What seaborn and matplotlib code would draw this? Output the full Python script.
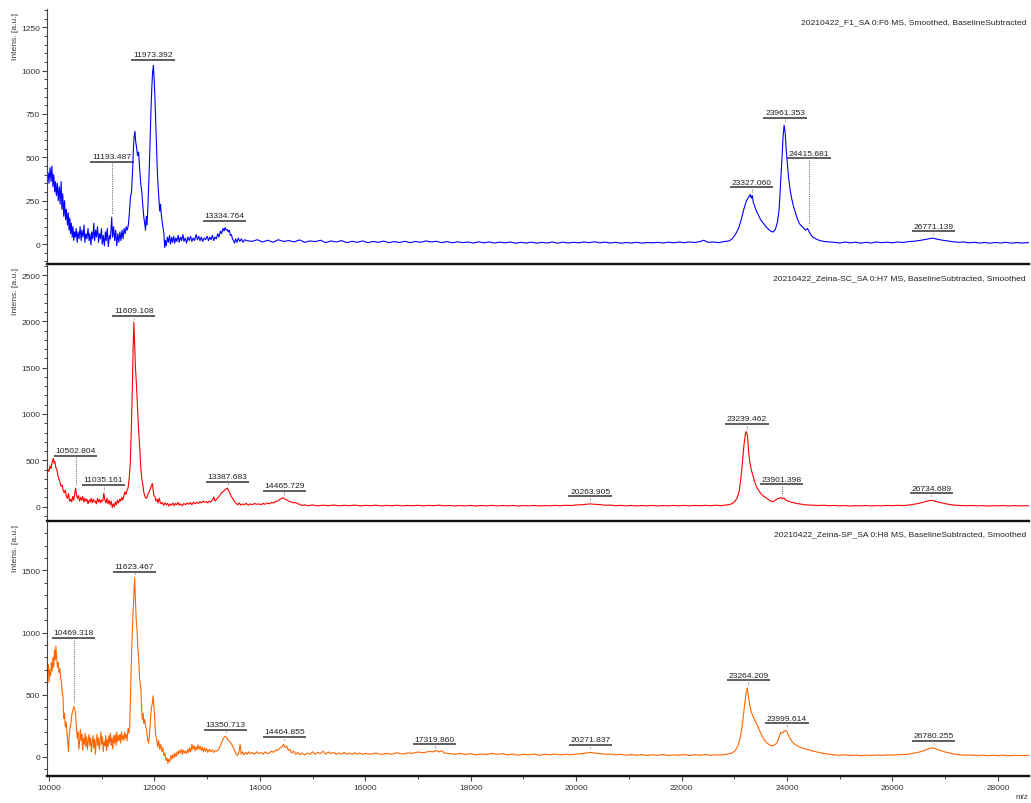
import matplotlib
matplotlib.use("Agg")
import matplotlib.pyplot as plt
import seaborn as sns
import pandas as pd
from matplotlib.ticker import MultipleLocator

# ---------------- data (m/z, intensity) ----------------
f1_points = [
    (9960, 370), (9985, 410), (10000, 350), (10020, 440), (10040, 360), (10055, 450), (10075, 330),
    (10090, 400), (10110, 300), (10125, 360), (10140, 280), (10160, 350), (10175, 250), (10195, 330),
    (10210, 230), (10230, 360), (10245, 200), (10260, 290), (10280, 160), (10295, 250), (10315, 140),
    (10330, 200), (10350, 110), (10365, 180), (10380, 80), (10395, 150), (10410, 60), (10425, 120),
    (10440, 40), (10455, 100), (10470, 20), (10485, 70), (10500, 40), (10515, 90), (10535, 10),
    (10550, 70), (10570, 30), (10590, 100), (10610, 20), (10625, 80), (10645, 40), (10665, 110),
    (10680, 10), (10700, 60), (10720, 30), (10740, 90), (10760, 20), (10775, 60), (10795, -5),
    (10810, 70), (10830, 30), (10850, 120), (10865, 20), (10885, 80), (10900, 40), (10920, 100),
    (10940, 10), (10955, 60), (10975, 30), (10995, 90), (11010, 0), (11030, 50), (11050, -10),
    (11070, 70), (11085, 20), (11105, 90), (11125, -15), (11145, 50), (11165, 30), (11190, 155),
    (11205, 40), (11225, 100), (11245, 20), (11265, 80), (11285, -10), (11305, 60), (11325, 10),
    (11345, 70), (11365, 20), (11385, 80), (11405, 30), (11425, 90), (11445, 60), (11465, 100),
    (11485, 80), (11505, 110), (11525, 180), (11545, 270), (11565, 300), (11585, 420), (11600, 540),
    (11615, 620), (11630, 650), (11645, 590), (11660, 560), (11680, 510), (11700, 530), (11720, 430),
    (11740, 350), (11760, 300), (11780, 220), (11800, 150), (11815, 120), (11830, 80), (11845, 160),
    (11860, 110), (11875, 210), (11890, 330), (11905, 460), (11920, 620), (11935, 780), (11950, 900),
    (11965, 990), (11980, 1030), (11995, 950), (12010, 840), (12025, 700), (12040, 560), (12055, 420),
    (12070, 330), (12085, 260), (12100, 190), (12115, 230), (12130, 170), (12150, 120), (12165, 90),
    (12180, 60), (12195, -20), (12210, 20), (12225, -10), (12245, 40), (12265, 10), (12285, 50),
    (12305, 0), (12325, 40), (12345, 10), (12365, 45), (12385, 5), (12405, 35), (12425, 15),
    (12450, 50), (12470, 10), (12495, 40), (12515, 20), (12540, 55), (12560, 15), (12585, 35),
    (12610, 5), (12635, 40), (12660, 20), (12685, 45), (12710, 15), (12735, 35), (12760, 20),
    (12790, 55), (12815, 25), (12840, 45), (12865, 20), (12890, 40), (12915, 15), (12945, 35),
    (12970, 25), (13000, 45), (13025, 20), (13050, 40), (13075, 25), (13100, 50), (13125, 20),
    (13150, 40), (13175, 30), (13200, 60), (13225, 40), (13250, 75), (13275, 60), (13300, 90),
    (13320, 75), (13340, 95), (13360, 80), (13380, 85), (13400, 70), (13420, 80), (13440, 50),
    (13460, 55), (13480, 30), (13500, 20), (13520, 5), (13540, 30), (13565, 10), (13590, 35),
    (13620, 15), (13650, 30), (13680, 10), (13710, 25), (13750, 20), (13850, 15), (13950, 25),
    (14050, 12), (14150, 22), (14250, 10), (14350, 25), (14450, 15), (14550, 20), (14650, 12),
    (14750, 24), (14850, 10), (14950, 18), (15050, 14), (15150, 22), (15250, 8), (15350, 18),
    (15450, 12), (15550, 20), (15650, 8), (15750, 16), (15850, 10), (15950, 18), (16050, 8),
    (16150, 15), (16250, 10), (16350, 17), (16450, 8), (16550, 14), (16650, 9), (16750, 16),
    (16850, 8), (16950, 15), (17050, 10), (17150, 18), (17250, 12), (17350, 16), (17450, 8),
    (17550, 14), (17650, 7), (17750, 13), (17850, 8), (17950, 12), (18050, 6), (18150, 13),
    (18250, 7), (18350, 12), (18450, 6), (18550, 11), (18650, 7), (18750, 12), (18850, 5),
    (18950, 10), (19050, 6), (19150, 11), (19250, 5), (19350, 10), (19450, 6), (19550, 12),
    (19650, 5), (19750, 11), (19850, 6), (19950, 10), (20050, 7), (20150, 12), (20250, 8),
    (20350, 13), (20450, 7), (20550, 11), (20650, 6), (20750, 10), (20850, 5), (20950, 9),
    (21050, 6), (21150, 10), (21250, 5), (21350, 9), (21450, 7), (21550, 10), (21650, 6),
    (21750, 11), (21850, 7), (21950, 12), (22050, 8), (22150, 12), (22250, 9), (22350, 14),
    (22420, 22), (22500, 10), (22600, 12), (22700, 8), (22800, 14), (22900, 18), (22960, 30),
    (23020, 55), (23080, 90), (23130, 140), (23180, 200), (23230, 250), (23270, 270), (23300, 285),
    (23320, 265), (23340, 280), (23360, 240), (23390, 215), (23420, 190), (23460, 165), (23500, 140),
    (23550, 120), (23600, 100), (23650, 85), (23700, 72), (23740, 70), (23780, 85), (23820, 130),
    (23850, 200), (23880, 360), (23905, 500), (23925, 620), (23945, 685), (23965, 640), (23985, 540),
    (24005, 470), (24030, 380), (24060, 310), (24090, 260), (24120, 220), (24150, 190), (24190, 150),
    (24230, 120), (24270, 105), (24310, 95), (24350, 80), (24390, 90), (24420, 70), (24460, 50),
    (24500, 38), (24560, 28), (24620, 20), (24700, 15), (24800, 12), (24900, 10), (25000, 6),
    (25100, 12), (25200, 7), (25300, 11), (25400, 5), (25500, 10), (25600, 6), (25700, 12),
    (25800, 8), (25900, 11), (26000, 7), (26100, 12), (26200, 9), (26300, 14), (26400, 16),
    (26500, 20), (26600, 25), (26700, 31), (26770, 34), (26850, 28), (26950, 22), (27050, 18),
    (27150, 13), (27250, 10), (27350, 12), (27450, 7), (27550, 10), (27650, 6), (27750, 9),
    (27850, 5), (27950, 9), (28050, 6), (28150, 10), (28250, 5), (28350, 9), (28450, 6),
    (28550, 8), (28620, 7),
]

sc_points = [
    (9960, 350), (9980, 400), (10000, 380), (10020, 440), (10040, 410), (10060, 480), (10080, 520),
    (10095, 470), (10110, 490), (10130, 420), (10150, 400), (10170, 330), (10190, 300), (10210, 260),
    (10230, 220), (10250, 230), (10270, 170), (10290, 150), (10310, 180), (10330, 110), (10350, 90),
    (10370, 140), (10390, 60), (10410, 80), (10430, 50), (10450, 110), (10470, 70), (10490, 150),
    (10505, 200), (10520, 130), (10540, 90), (10560, 120), (10580, 60), (10600, 100), (10620, 70),
    (10640, 110), (10660, 50), (10680, 90), (10700, 60), (10720, 80), (10740, 30), (10760, 70),
    (10780, 50), (10800, 90), (10820, 40), (10840, 80), (10860, 50), (10880, 60), (10900, 30),
    (10920, 90), (10940, 50), (10960, 80), (10980, 40), (11000, 70), (11020, 60), (11040, 145),
    (11060, 70), (11080, 40), (11100, 90), (11120, 30), (11140, 70), (11160, 20), (11180, 60),
    (11200, -10), (11220, 30), (11240, 0), (11260, 50), (11280, 20), (11300, 70), (11320, 40),
    (11340, 80), (11360, 60), (11380, 100), (11400, 70), (11420, 120), (11440, 160), (11460, 130),
    (11480, 180), (11500, 200), (11520, 300), (11540, 450), (11560, 800), (11580, 1250), (11595, 1700),
    (11610, 1990), (11625, 1750), (11640, 1500), (11660, 1300), (11680, 1050), (11700, 820),
    (11720, 650), (11740, 430), (11760, 300), (11780, 240), (11800, 150), (11820, 110), (11840, 90),
    (11860, 100), (11880, 140), (11900, 160), (11920, 190), (11940, 220), (11960, 250), (11975, 180),
    (11990, 120), (12010, 110), (12030, 60), (12050, 80), (12070, 40), (12090, 90), (12110, 50),
    (12130, 30), (12150, 45), (12175, 15), (12200, 40), (12225, 20), (12250, 35), (12275, 5),
    (12300, 30), (12325, 15), (12350, 40), (12375, 10), (12400, 35), (12425, 20), (12450, 45),
    (12475, 15), (12500, 30), (12530, 10), (12560, 35), (12590, 20), (12620, 40), (12650, 25),
    (12680, 45), (12710, 20), (12740, 50), (12770, 30), (12800, 45), (12830, 35), (12860, 55),
    (12890, 40), (12920, 60), (12950, 45), (12980, 55), (13010, 40), (13040, 60), (13070, 50),
    (13100, 70), (13125, 105), (13150, 60), (13180, 80), (13210, 100), (13240, 120), (13270, 150),
    (13300, 160), (13330, 180), (13360, 190), (13380, 200), (13400, 180), (13420, 160), (13440, 130),
    (13460, 110), (13490, 80), (13520, 55), (13550, 35), (13580, 20), (13610, 40), (13640, 15),
    (13670, 30), (13700, 20), (13740, 35), (13780, 15), (13820, 30), (13860, 20), (13900, 35),
    (13940, 25), (13980, 30), (14020, 20), (14060, 35), (14100, 25), (14140, 40), (14180, 30),
    (14220, 45), (14260, 40), (14300, 55), (14340, 60), (14380, 80), (14420, 90), (14450, 95),
    (14480, 80), (14520, 70), (14560, 55), (14600, 50), (14640, 40), (14680, 45), (14720, 30),
    (14760, 25), (14800, 12), (14850, 20), (14900, 10), (15000, 18), (15100, 8), (15200, 16),
    (15300, 10), (15400, 18), (15500, 8), (15600, 15), (15700, 10), (15800, 17), (15900, 8),
    (16000, 14), (16100, 10), (16200, 16), (16300, 7), (16400, 14), (16500, 9), (16600, 15),
    (16700, 8), (16800, 13), (16900, 9), (17000, 15), (17100, 8), (17200, 14), (17300, 10),
    (17400, 16), (17500, 8), (17600, 13), (17700, 7), (17800, 12), (17900, 8), (18000, 13),
    (18100, 7), (18200, 12), (18300, 8), (18400, 14), (18500, 7), (18600, 12), (18700, 8),
    (18800, 13), (18900, 6), (19000, 12), (19100, 8), (19200, 13), (19300, 7), (19400, 12),
    (19500, 8), (19600, 14), (19700, 9), (19800, 15), (19900, 12), (20000, 18), (20100, 20),
    (20200, 26), (20270, 30), (20350, 25), (20450, 22), (20550, 15), (20650, 17), (20750, 10),
    (20850, 14), (20950, 8), (21050, 13), (21150, 7), (21250, 12), (21350, 8), (21450, 13),
    (21550, 7), (21650, 12), (21750, 8), (21850, 13), (21950, 9), (22050, 14), (22150, 8),
    (22250, 13), (22350, 9), (22450, 14), (22550, 10), (22650, 15), (22750, 11), (22850, 18),
    (22900, 22), (22950, 30), (23000, 50), (23050, 90), (23090, 160), (23120, 280), (23150, 450),
    (23180, 650), (23210, 790), (23230, 810), (23250, 760), (23270, 600), (23290, 500), (23320, 400),
    (23350, 340), (23380, 280), (23410, 230), (23440, 195), (23480, 160), (23520, 130), (23560, 110),
    (23600, 95), (23650, 75), (23700, 58), (23740, 55), (23780, 70), (23820, 85), (23860, 90),
    (23880, 100), (23910, 85), (23940, 95), (23970, 75), (24010, 60), (24050, 55), (24100, 45),
    (24150, 38), (24200, 32), (24260, 28), (24330, 20), (24400, 18), (24500, 14), (24600, 12),
    (24700, 15), (24800, 9), (24900, 13), (25000, 8), (25100, 12), (25200, 7), (25300, 11),
    (25400, 8), (25500, 12), (25600, 7), (25700, 11), (25800, 9), (25900, 13), (26000, 10),
    (26100, 14), (26200, 12), (26300, 16), (26400, 25), (26500, 35), (26600, 50), (26700, 65),
    (26750, 68), (26800, 60), (26900, 45), (27000, 32), (27100, 22), (27200, 15), (27300, 12),
    (27400, 9), (27500, 12), (27600, 8), (27700, 11), (27800, 7), (27900, 11), (28000, 8),
    (28100, 12), (28200, 7), (28300, 11), (28400, 8), (28500, 10), (28620, 9),
]

sp_points = [
    (9960, 720), (9975, 680), (9990, 740), (10000, 600), (10015, 700), (10030, 650), (10045, 760),
    (10060, 690), (10075, 800), (10090, 720), (10105, 860), (10120, 780), (10130, 890), (10145, 800),
    (10160, 720), (10175, 760), (10190, 680), (10205, 710), (10220, 640), (10235, 600), (10250, 530),
    (10265, 480), (10280, 310), (10295, 350), (10310, 240), (10325, 280), (10340, 200), (10355, 130),
    (10370, 40), (10385, 180), (10400, 230), (10415, 260), (10430, 330), (10450, 370), (10470, 405),
    (10490, 380), (10505, 340), (10520, 250), (10535, 150), (10550, 200), (10565, 60), (10580, 120),
    (10595, 220), (10610, 130), (10625, 180), (10640, 50), (10655, 150), (10670, 100), (10685, 190),
    (10700, 80), (10715, 160), (10730, 60), (10745, 130), (10760, 180), (10775, 90), (10790, 150),
    (10805, 40), (10820, 110), (10835, 170), (10850, 70), (10865, 140), (10880, 20), (10895, 120),
    (10910, 180), (10925, 90), (10940, 150), (10955, 60), (10970, 130), (10985, 200), (11000, 100),
    (11015, 160), (11030, 40), (11045, 120), (11060, 90), (11075, 170), (11090, 50), (11105, 140),
    (11120, 80), (11135, 170), (11150, 110), (11165, 190), (11180, 90), (11195, 150), (11210, 60),
    (11225, 170), (11240, 110), (11255, 180), (11270, 90), (11285, 200), (11300, 120), (11315, 170),
    (11330, 130), (11345, 180), (11360, 110), (11375, 200), (11390, 140), (11405, 170), (11420, 130),
    (11435, 200), (11450, 150), (11465, 180), (11480, 130), (11500, 230), (11515, 190), (11530, 240),
    (11550, 560), (11570, 880), (11590, 1120), (11610, 1300), (11625, 1440), (11640, 1250),
    (11655, 1100), (11670, 1020), (11685, 880), (11700, 800), (11720, 620), (11740, 560), (11755, 420),
    (11770, 300), (11785, 350), (11800, 270), (11815, 300), (11830, 250), (11850, 220), (11870, 140),
    (11890, 110), (11910, 200), (11930, 330), (11945, 400), (11960, 430), (11975, 490), (11990, 400),
    (12005, 320), (12020, 180), (12040, 150), (12060, 80), (12080, 130), (12100, 60), (12120, 100),
    (12140, 40), (12160, 70), (12180, 10), (12200, 30), (12220, -30), (12240, -10), (12255, -55),
    (12270, -20), (12290, -40), (12310, 10), (12330, -20), (12350, 20), (12370, -10), (12390, 30),
    (12410, 0), (12430, 40), (12450, 20), (12470, 50), (12490, 30), (12510, 60), (12530, 20),
    (12550, 55), (12570, 30), (12590, 45), (12610, 25), (12630, 60), (12650, 35), (12670, 70),
    (12690, 40), (12710, 100), (12730, 60), (12750, 90), (12770, 50), (12790, 80), (12810, 55),
    (12830, 95), (12850, 60), (12870, 85), (12890, 50), (12910, 75), (12930, 40), (12950, 70),
    (12970, 45), (12990, 65), (13010, 35), (13040, 60), (13070, 40), (13100, 55), (13130, 35),
    (13160, 50), (13190, 45), (13220, 60), (13250, 90), (13280, 120), (13310, 150), (13340, 165),
    (13365, 160), (13390, 140), (13420, 125), (13450, 110), (13480, 90), (13510, 60), (13540, 30),
    (13570, 10), (13600, 30), (13625, 100), (13645, 20), (13670, 40), (13700, 15), (13730, 35),
    (13760, 20), (13790, 40), (13820, 25), (13860, 35), (13900, 20), (13940, 40), (13980, 25),
    (14020, 35), (14060, 20), (14100, 40), (14140, 25), (14180, 30), (14220, 45), (14260, 35),
    (14300, 55), (14340, 50), (14380, 70), (14420, 80), (14450, 100), (14480, 75), (14510, 85),
    (14540, 50), (14570, 60), (14600, 30), (14640, 45), (14680, 20), (14720, 35), (14760, 15),
    (14800, 30), (14850, 15), (14900, 30), (14950, 20), (15000, 40), (15050, 20), (15100, 35),
    (15150, 25), (15200, 45), (15250, 20), (15300, 38), (15350, 25), (15400, 35), (15450, 18),
    (15500, 30), (15550, 22), (15600, 35), (15650, 20), (15700, 30), (15750, 18), (15800, 32),
    (15850, 22), (15900, 30), (15950, 18), (16000, 28), (16100, 20), (16200, 30), (16300, 18),
    (16400, 28), (16500, 20), (16600, 32), (16700, 22), (16800, 30), (16900, 28), (17000, 38),
    (17100, 32), (17200, 42), (17300, 40), (17350, 52), (17400, 38), (17450, 48), (17500, 30),
    (17600, 26), (17700, 20), (17800, 28), (17900, 18), (18000, 25), (18100, 15), (18200, 22),
    (18300, 18), (18400, 28), (18500, 20), (18600, 25), (18700, 15), (18800, 22), (18900, 12),
    (19000, 20), (19100, 15), (19200, 22), (19300, 12), (19400, 20), (19500, 15), (19600, 22),
    (19700, 14), (19800, 20), (19900, 15), (20000, 22), (20100, 25), (20200, 30), (20270, 35),
    (20350, 30), (20450, 25), (20550, 20), (20650, 22), (20750, 15), (20850, 20), (20950, 12),
    (21050, 18), (21150, 12), (21250, 16), (21350, 10), (21450, 16), (21550, 12), (21650, 18),
    (21750, 10), (21850, 15), (21950, 12), (22050, 18), (22150, 10), (22250, 16), (22350, 12),
    (22450, 18), (22550, 12), (22650, 16), (22750, 14), (22850, 20), (22950, 28), (23020, 50),
    (23080, 100), (23120, 170), (23160, 280), (23190, 400), (23220, 500), (23245, 555), (23270, 480),
    (23300, 400), (23330, 350), (23360, 320), (23400, 285), (23440, 250), (23480, 210), (23520, 175),
    (23560, 140), (23600, 120), (23650, 100), (23700, 88), (23740, 90), (23780, 100), (23820, 120),
    (23850, 160), (23880, 195), (23910, 190), (23940, 205), (23970, 212), (24000, 200), (24030, 170),
    (24060, 145), (24100, 120), (24150, 100), (24200, 88), (24250, 75), (24300, 70), (24350, 62),
    (24400, 58), (24450, 50), (24500, 45), (24600, 35), (24700, 26), (24800, 20), (24900, 15),
    (25000, 12), (25100, 16), (25200, 10), (25300, 14), (25400, 9), (25500, 13), (25600, 10),
    (25700, 14), (25800, 11), (25900, 15), (26000, 13), (26100, 16), (26200, 18), (26300, 20),
    (26350, 25), (26450, 32), (26550, 42), (26650, 58), (26750, 72), (26800, 68), (26900, 52),
    (27000, 38), (27100, 28), (27200, 20), (27300, 15), (27400, 12), (27500, 14), (27600, 9),
    (27700, 13), (27800, 8), (27900, 12), (28000, 9), (28100, 13), (28200, 8), (28300, 12),
    (28400, 9), (28500, 11), (28620, 10),
]

spectrum_titles = [
    "20210422_F1_SA 0:F6 MS, Smoothed, BaselineSubtracted",
    "20210422_Zeina-SC_SA 0:H7 MS, BaselineSubtracted, Smoothed",
    "20210422_Zeina-SP_SA 0:H8 MS, BaselineSubtracted, Smoothed",
]

# peak labels (text, intensity at peak)
f1_peaks = [("11193.487", 155), ("11973.392", 1030), ("13334.764", 95), ("23327.060", 285),
            ("23961.353", 685), ("24415.681", 90), ("26771.139", 34)]
sc_peaks = [("10502.804", 200), ("11035.161", 145), ("11609.108", 1990), ("13387.683", 200),
            ("14465.729", 95), ("20263.905", 30), ("23239.462", 810), ("23901.398", 95),
            ("26734.689", 68)]
sp_peaks = [("10469.318", 405), ("11623.467", 1440), ("13350.713", 165), ("14464.855", 100),
            ("17319.860", 50), ("20271.837", 35), ("23264.209", 555), ("23999.614", 212),
            ("26780.255", 72)]

# ---------------- layout (label heights above the peaks) ----------------
f1_label_y = [475, 1062, 134, 327, 729, 494, 73]
sc_label_y = [550, 233, 2057, 270, 173, 111, 892, 241, 144]
sp_label_y = [956, 1491, 219, 161, 99, 94, 616, 268, 126]

colors = ["#0000FF", "#FF0000", "#FF6600"]
ylims = [(-115, 1355), (-155, 2619), (-155, 1898)]
ymajor = [250, 500, 500]
yminor = [50, 100, 100]

sns.set_style("ticks")
plt.rcParams["font.family"] = ["Liberation Sans", "DejaVu Sans"]

W, H = 1031, 804
fig = plt.figure(figsize=(W / 100, H / 100), dpi=100)
left = 47 / W
width = (1029 - 47) / W
rows = [(10, 265), (265, 522), (522, 777)]

series = [f1_points, sc_points, sp_points]
peaks = [f1_peaks, sc_peaks, sp_peaks]
label_ys = [f1_label_y, sc_label_y, sp_label_y]

for i, (top, bot) in enumerate(rows):
    ax = fig.add_axes([left, 1 - bot / H, width, (bot - top) / H])
    df = pd.DataFrame(series[i], columns=["mz", "intensity"])
    sns.lineplot(data=df, x="mz", y="intensity", ax=ax, color=colors[i], lw=0.8,
                 estimator=None, sort=False)
    ax.set_xlim(9962, 28590)
    ax.set_ylim(*ylims[i])
    ax.set_xlabel("")
    ax.set_ylabel("")
    for s in ["top", "right"]:
        ax.spines[s].set_visible(False)
    ax.spines["left"].set_linewidth(0.8)
    ax.spines["left"].set_color("#444444")
    ax.spines["bottom"].set_linewidth(1.7)
    ax.spines["bottom"].set_color("#111111")
    ax.yaxis.set_major_locator(MultipleLocator(ymajor[i]))
    ax.yaxis.set_minor_locator(MultipleLocator(yminor[i]))
    ax.tick_params(axis="y", which="major", length=3.5, width=0.8, labelsize=6.0,
                   colors="#444444", labelcolor="#333333", pad=1.5)
    ax.tick_params(axis="y", which="minor", length=2, width=0.7, colors="#444444")
    ax.xaxis.set_major_locator(MultipleLocator(2000))
    ax.xaxis.set_minor_locator(MultipleLocator(1000))
    if i < 2:
        ax.tick_params(axis="x", which="both", length=0, labelbottom=False)
    else:
        ax.tick_params(axis="x", which="major", length=3.5, width=0.8, labelsize=6.0,
                       colors="#444444", labelcolor="#333333", pad=2)
        ax.tick_params(axis="x", which="minor", length=2, width=0.7, colors="#444444")
    ax.patch.set_alpha(0)

    # title inside the panel, top right
    ax.text(0.997, 0.962, spectrum_titles[i], transform=ax.transAxes, ha="right", va="top",
            fontsize=6.1, color="#222222")
    # y label, top-aligned
    ax.text(-0.0325, 0.99, "Intens. [a.u.]", transform=ax.transAxes, rotation=90,
            ha="center", va="top", fontsize=6.1, color="#333333")

    # peak annotations
    ymin, ymax = ylims[i]
    px_per_unit = (bot - top) / (ymax - ymin)
    gap = 3 / px_per_unit
    half = 410
    for (txt, pk), uy in zip(peaks[i], label_ys[i]):
        mz = float(txt)
        ax.plot([mz - half, mz + half], [uy, uy], color="#333333", lw=1.1,
                solid_capstyle="butt", zorder=4)
        ax.plot([mz, mz], [uy - gap * 0.6, pk + gap], color="#777777", lw=0.8,
                ls=(0, (1, 1)), zorder=4)
        ax.annotate(txt, xy=(mz, uy), xytext=(0, 1.2), textcoords="offset points",
                    ha="center", va="bottom", fontsize=6.1, color="#222222", zorder=5)

fig.text(1022 / W, 1 - 801 / H, "m/z", ha="center", va="bottom", fontsize=5.8, color="#333333")

fig.savefig("out.png", dpi=100)
